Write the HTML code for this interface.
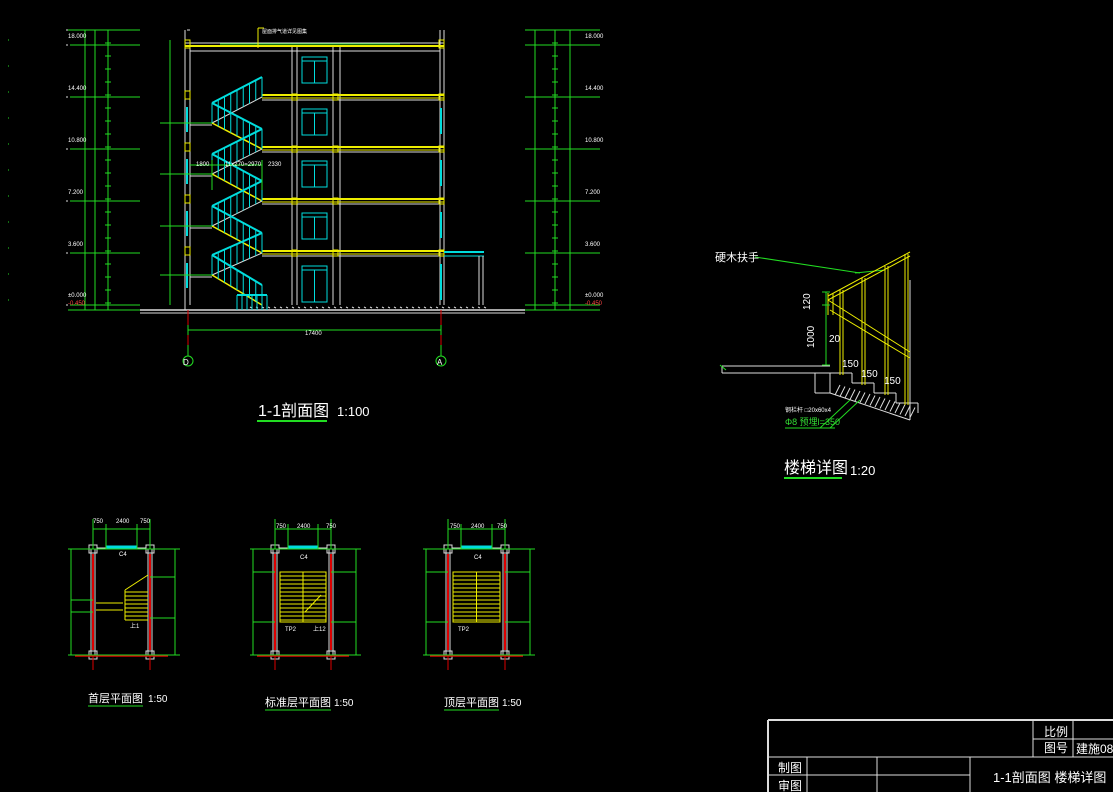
<!DOCTYPE html>
<html><head><meta charset="utf-8"><style>
html,body{margin:0;padding:0;background:#000;width:1113px;height:792px;overflow:hidden}
svg{display:block}
text{font-family:"Liberation Sans","Noto Sans CJK SC",sans-serif}
</style></head><body>
<svg id="s" width="1113" height="792" viewBox="0 0 1113 792" xmlns="http://www.w3.org/2000/svg">
<g id="g" fill="none" stroke-width="1"></g>
<g fill="#fff" font-size="6">
<text x="68" y="38">18.000</text><text x="68" y="90">14.400</text><text x="68" y="142">10.800</text><text x="68" y="194">7.200</text><text x="68" y="246">3.600</text><text x="68" y="297">±0.000</text><text x="68" y="305" fill="#f44">-0.450</text>
<text x="585" y="38">18.000</text><text x="585" y="90">14.400</text><text x="585" y="142">10.800</text><text x="585" y="194">7.200</text><text x="585" y="246">3.600</text><text x="585" y="297">±0.000</text><text x="585" y="305" fill="#f44">-0.450</text>
<text x="305" y="335">17400</text>
<text x="196" y="166">1800</text><text x="225" y="166">11x270=2970</text><text x="268" y="166">2330</text>
<text x="262" y="33" font-size="5">屋面排气道详见图集</text>
</g>
<g fill="#fff">
<text x="183" y="365" font-size="8">D</text><text x="437" y="365" font-size="8">A</text>
<text x="258" y="416" font-size="16">1-1剖面图</text><text x="337" y="416" font-size="13">1:100</text>
<text x="715" y="261" font-size="11">硬木扶手</text>
<text x="798" y="306" font-size="10" transform="rotate(-90 806 302)">120</text>
<text x="790" y="336" font-size="10" transform="rotate(-90 808 330)">1000</text>
<text x="829" y="342" font-size="10">20</text><text x="842" y="367" font-size="10">150</text><text x="861" y="377" font-size="10">150</text><text x="884" y="384" font-size="10">150</text>
<text x="785" y="412" font-size="6">钢栏杆 □20x60x4</text>
<text x="785" y="425" font-size="9" fill="#3d3">Φ8 预埋l=350</text>
<text x="784" y="473" font-size="16">楼梯详图</text><text x="850" y="475" font-size="13">1:20</text>
<text x="88" y="702" font-size="11">首层平面图</text><text x="148" y="702" font-size="10">1:50</text>
<text x="265" y="706" font-size="11">标准层平面图</text><text x="334" y="706" font-size="10">1:50</text>
<text x="444" y="706" font-size="11">顶层平面图</text><text x="502" y="706" font-size="10">1:50</text>
<text x="1044" y="736" font-size="12">比例</text>
<text x="1044" y="752" font-size="12">图号</text><text x="1076" y="753" font-size="12">建施08</text>
<text x="778" y="772" font-size="12">制图</text><text x="778" y="790" font-size="12">审图</text>
<text x="993" y="782" font-size="13">1-1剖面图  楼梯详图</text>
</g>
<g fill="#fff" font-size="6">
<text x="93" y="523">750</text><text x="116" y="523">2400</text><text x="140" y="523">750</text>
<text x="276" y="528">750</text><text x="297" y="528">2400</text><text x="326" y="528">750</text>
<text x="450" y="528">750</text><text x="471" y="528">2400</text><text x="497" y="528">750</text>
<text x="119" y="556">C4</text><text x="300" y="559">C4</text><text x="474" y="559">C4</text>
<text x="130" y="628">上1</text><text x="285" y="631">TP2</text><text x="313" y="631">上12</text><text x="458" y="631">TP2</text>
</g>
</svg>
<script>
const g=document.getElementById('g');
function L(x1,y1,x2,y2,c,w){const e=document.createElementNS('http://www.w3.org/2000/svg','line');e.setAttribute('x1',x1);e.setAttribute('y1',y1);e.setAttribute('x2',x2);e.setAttribute('y2',y2);e.setAttribute('stroke',c);if(w)e.setAttribute('stroke-width',w);g.appendChild(e);}
function R(x,y,w,h,c,f){const e=document.createElementNS('http://www.w3.org/2000/svg','rect');e.setAttribute('x',x);e.setAttribute('y',y);e.setAttribute('width',w);e.setAttribute('height',h);e.setAttribute('stroke',c);e.setAttribute('fill',f||'none');g.appendChild(e);}
const W='#ddd',Y='#ee0',C='#0dd',G='#2d2',Rd='#d00';
L(140,310,525,310,W,1.5);L(140,313,525,313,W);
for(let x=250;x<485;x+=6)L(x,307,x+2,308,W);
L(185,30,185,310,W);L(190,45,190,305,W);L(187,30,190,30,W);
L(440,30,440,305,W);L(444,30,444,305,W);
L(292,45,292,305,W);L(297,45,297,305,W);L(333,45,333,305,W);L(340,45,340,305,W);
L(185,43,444,43,W);L(185,46,444,46,Y,2);L(190,51,440,51,W);L(220,44,400,44,G);
L(258,28,258,48,Y);L(258,28,264,28,Y);
const fl=[97,149,201,253];
fl.forEach(y=>{L(262,y-2,444,y-2,Y,2);L(262,y+1,444,y+1,Y);L(262,y+3,440,y+3,W);R(185,y-6,5,8,Y);R(292,y-3,5,6,Y);R(333,y-3,5,6,Y);R(439,y-3,5,6,Y);});
R(185,40,5,8,Y);R(439,40,5,8,Y);
[57,109,161,213].forEach(y=>{R(302,y,25,26,C);L(302,y+4,327,y+4,C);L(314.5,y+4,314.5,y+26,C);});
R(302,266,25,36,C);L(302,270,327,270,C);L(314.5,270,314.5,302,C);
L(444,252,484,252,C,2);L(444,256,484,256,C);L(479,256,479,305,W);L(483,256,483,305,W);
[107,159,211,263].forEach(y=>{L(187,y,187,y+25,C,2);});L(441,108,441,134,C,2);L(441,160,441,186,C,2);L(441,212,441,238,C,2);L(441,264,441,300,C,2);
const lands=[123,174,226,275];
for(let i=0;i<4;i++){const ly=lands[i];const bot=(i<3?fl[i+1]:305);
 L(212,ly,262,fl[i],W);L(212,ly-20,262,fl[i]-20,C,2);
 for(let k=0;k<=8;k++){const x=212+k*50/8,y=ly+(fl[i]-ly)*k/8;L(x,y,x,y-20,C);}
 L(212,ly,262,bot,Y,1.5);L(212,ly-20,262,bot-20,C,2);
 for(let k=0;k<=8;k++){const x=212+k*50/8,y=ly+(bot-ly)*k/8;L(x,y,x,y-20,C);}
 L(190,ly,212,ly,W);L(190,ly+2,212,ly+2,W);
}
L(237,295,267,295,C,2);for(let x=237;x<=267;x+=5)L(x,295,x,310,C);
L(188,310,188,345,Rd);L(441,310,441,345,Rd);
L(188,330,441,330,G);L(188,325,188,335,G);L(441,325,441,335,G);
[[188,361],[441,361]].forEach(p=>{const c=document.createElementNS('http://www.w3.org/2000/svg','circle');c.setAttribute('cx',p[0]);c.setAttribute('cy',p[1]);c.setAttribute('r',5);c.setAttribute('stroke',G);g.appendChild(c);L(p[0],345,p[0],356,G);});
L(68,30,140,30,G);L(68,310,140,310,G);
[30,45,97,149,201,253,305].forEach(y=>{L(70,y,140,y,G);L(66,y,68,y,W);});
L(85,30,85,310,G);L(95,30,95,310,G);L(108,30,108,310,G);L(170,40,170,305,G);
for(let y=30;y<=310;y+=13)L(105,y,111,y,G);
[123,174,226,275].forEach(y=>{L(160,y,212,y,G);});
L(190,165,262,165,G);L(212,160,212,190,G);L(262,160,262,190,G);
L(525,30,600,30,G);L(525,310,600,310,G);
[30,45,97,149,201,253,305].forEach(y=>{L(525,y,600,y,G);});
L(535,30,535,310,G);L(555,30,555,310,G);L(570,30,570,310,G);
for(let y=30;y<=310;y+=13)L(552,y,558,y,G);
for(let y=40;y<=310;y+=26){L(8,y,9,y,G);}
L(257,421,327,421,G,2);L(784,478,842,478,G,2);
L(755,257,860,273,G);L(855,273,885,270,G);
L(722,366,830,366,W);L(722,373,830,373,W);L(722,366,722,373,W);L(720,365,726,370,G);
L(815,373,815,393,W);L(815,393,830,393,W);L(830,373,830,393,W);
let sx=830,sy=373;for(let k=0;k<4;k++){L(sx,sy,sx+22,sy,W);L(sx+22,sy,sx+22,sy+10,W);sx+=22;sy+=10;}
L(830,393,910,420,W);L(910,280,910,420,W);
for(let k=0;k<16;k++){L(835+k*5,395+k*1.5,840+k*5,385+k*1.5,W);}
L(828,296,910,252,Y);L(828,300,910,256,Y);L(828,300,910,352,Y);L(830,310,910,358,Y);
L(828,293,828,315,Y);L(833,293,833,315,Y);
[840,862,885,905].forEach((x,i)=>{L(x,290-i*12,x,375+i*10,Y);L(x+3,290-i*12,x+3,375+i*10,Y);});
L(826,292,826,365,G);L(822,292,830,292,G);L(822,305,830,305,G);L(822,365,830,365,G);
L(850,400,820,428,G);L(860,400,830,428,G);L(785,428,835,428,G);
function plan(x1,x2,std){
 const t=549,b=655;
 R(x1-4,t-4,8,8,W);R(x2-4,t-4,8,8,W);R(x1-4,b-4,8,8,W);R(x2-4,b-4,8,8,W);
 L(x1-2,t,x1-2,b,W);L(x1+2,t,x1+2,b,W);L(x2-2,t,x2-2,b,W);L(x2+2,t,x2+2,b,W);
 L(x1,t+5,x1,b-5,Rd,2);L(x2,t+5,x2,b-5,Rd,2);
 L(x1+4,t-1,x2-4,t-1,W);L(x1+13,t-2,x2-13,t-2,C,3);
 L(x1,b,x1,b+15,Rd);L(x2,b,x2,b+15,Rd);L(x1-18,b+1,x2+18,b+1,Rd,1.5);
 L(x1,t-30,x1,t,G);L(x2,t-30,x2,t,G);L(x1+13,t-25,x1+13,t,G);L(x2-13,t-25,x2-13,t,G);L(x1,t-20,x2,t-20,G);
 L(x1-25,t,x2+30,t,G);L(x1-25,b,x2+30,b,G);L(x1-22,t,x1-22,b,G);L(x2+25,t,x2+25,b,G);
 if(std==0){
  for(let y=592;y<=620;y+=4)L(x1+32,y,x2-2,y,Y);L(x1+32,590,x1+32,620,Y);L(x1+32,590,x2-2,575,Y);
  L(x1+3,603,x1+30,603,Y);L(x1+3,610,x1+30,610,Y);L(x1-22,600,x1,600,G);L(x1-22,612,x1,612,G);L(x2,577,x2+25,577,G);L(x2,618,x2+25,618,G);
 }else{
  R(x1+5,572,x2-x1-10,50,Y);for(let y=576;y<=620;y+=4)L(x1+5,y,x2-5,y,Y);L((x1+x2)/2,572,(x1+x2)/2,622,Y);
  L(x1-22,572,x1,572,G);L(x1-22,622,x1,622,G);L(x2,572,x2+25,572,G);L(x2,622,x2+25,622,G);
  if(std==1)L(x1+30,612,x2-10,595,Y);
 }
}
plan(93,150,0);plan(275,331,1);plan(448,505,2);
L(88,706,143,706,G);L(265,710,331,710,G);L(444,710,499,710,G);
L(768,720,1113,720,W,2);L(768,720,768,792,W,2);
L(768,757,1113,757,W);L(768,775,970,775,W);
L(807,757,807,792,W);L(877,757,877,792,W);L(970,757,970,792,W);
L(1033,720,1033,757,W);L(1073,720,1073,757,W);L(1033,739,1113,739,W);
</script>
</body></html>
